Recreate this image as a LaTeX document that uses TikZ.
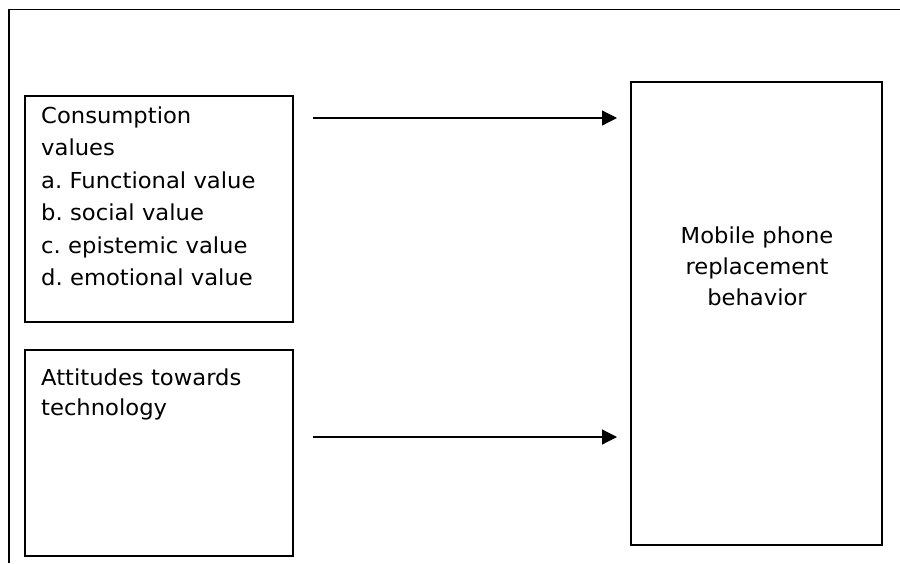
\documentclass[tikz,border=0pt]{standalone}
\usepackage{fontspec}
\setmainfont{DejaVu Sans}[FakeStretch=1.03]
\usetikzlibrary{arrows.meta}
\begin{document}
\frenchspacing
\begin{tikzpicture}[x=1pt,y=-1pt,
  boxstyle/.style={draw=black,line width=1.1pt,rectangle,inner sep=0pt},
  txt/.style={inner sep=0pt,font=\fontsize{22}{31}\selectfont},
  conn/.style={line width=1.2pt,-{Triangle[length=15pt,width=15pt]}}]
\useasboundingbox (0,0) rectangle (900,563);
% outer frame
\draw[line width=1.4pt] (9,563) -- (9,9.5) -- (900,9.5);
% boxes
\node[boxstyle,minimum width=268pt,minimum height=226pt] (cv) at (159,209) {};
\node[boxstyle,minimum width=268pt,minimum height=206pt] (att) at (159,453) {};
\node[boxstyle,minimum width=251pt,minimum height=463pt] (mob) at (756.5,313.5) {};
% texts
\node[txt,anchor=base west,text width=250pt,align=left,font=\fontsize{22}{32.5}\selectfont] (cvtext) at (41,123)
  {Consumption\\values\\a. Functional value\\b. social value\\c. epistemic value\\d. emotional value};
\node[txt,anchor=base west,text width=250pt,align=left,font=\fontsize{22}{30.5}\selectfont] (atttext) at (41,385)
  {Attitudes towards\\technology};
\node[txt,anchor=base,text width=240pt,align=center] (mobtext) at (757,243)
  {Mobile phone\\replacement\\behavior};
% connectors
\coordinate (c1s) at (313,118);
\coordinate (c1e) at (617,118);
\coordinate (c2s) at (313,437);
\coordinate (c2e) at (617,437);
\draw[conn] (c1s) -- (c1e);
\draw[conn] (c2s) -- (c2e);
\end{tikzpicture}
\end{document}
